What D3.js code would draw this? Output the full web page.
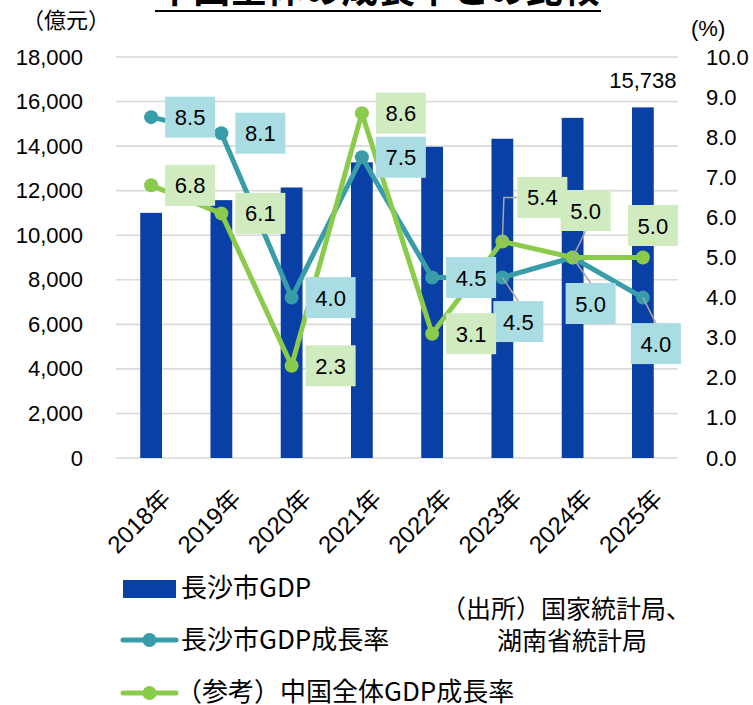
<!DOCTYPE html>
<html><head><meta charset="utf-8">
<script src="https://cdn.jsdelivr.net/npm/d3@7"></script>
<style>
html,body{margin:0;padding:0;background:#fff;}
svg{display:block;}
</style></head>
<body>
<script>
// ---- data ----
const years = ["2018年","2019年","2020年","2021年","2022年","2023年","2024年","2025年"];
const gdp = [11003, 11574, 12143, 13271, 13966, 14331, 15269, 15738];
const changshaRate = [8.5, 8.1, 4.0, 7.5, 4.5, 4.5, 5.0, 4.0];
const chinaRate = [6.8, 6.1, 2.3, 8.6, 3.1, 5.4, 5.0, 5.0];
const leftTicks = [0, 2000, 4000, 6000, 8000, 10000, 12000, 14000, 16000, 18000];
const rightTicks = [0, 1, 2, 3, 4, 5, 6, 7, 8, 9, 10];
const title = "中国全体の成長率との比較";
const legendNames = ["長沙市GDP", "長沙市GDP成長率", "（参考）中国全体GDP成長率"];
const sourceLines = ["（出所）国家統計局、", "湖南省統計局"];

// label placement (offset of label box centre from its point, in px)
const changshaLabelPos = [[39,0],[39,0],[39,0],[39,0],[39,0],[16,44],[18,46],[13,46]];
const chinaLabelPos    = [[39,0],[39,0],[39,0],[39,0],[39,0],[40,-44],[13,-47],[10,-32]];
const changshaLeader = ["","","","","","line","line","line"];
const chinaLeader    = ["","","","","","elbow","line",""];

const W = 753, H = 705;
const C = {bar:"#0A3FA6", teal:"#389DA8", green:"#8ACB4C", tealBox:"#AADCE3", greenBox:"#D0EBC0", grid:"#D9D9D9", leader:"#A6A6A6"};
const numFont = "'Liberation Sans', Arial, sans-serif";
const cjkFont = "'Noto Sans CJK JP', 'Noto Sans', sans-serif";

const svg = d3.select("body").append("svg").attr("width", W).attr("height", H);

const x = d3.scaleBand().domain(years).range([116, 678]).paddingInner(0.69).paddingOuter(0.345);
const xc = d => x(d) + x.bandwidth()/2;
const yL = d3.scaleLinear().domain([0, 18000]).range([458, 57]);
const yR = d3.scaleLinear().domain([0, 10]).range([458, 57]);

// title
svg.append("text").attr("x", 378).attr("y", 3).attr("text-anchor","middle")
  .style("font-family", cjkFont).style("font-weight","bold").style("font-size","37px")
  .attr("fill","#000").text(title);
svg.append("line").attr("x1",155).attr("x2",601).attr("y1",11).attr("y2",11)
  .attr("stroke","#000").attr("stroke-width",2.2);

// axis titles
svg.append("text").attr("x", 22).attr("y", 28).style("font-family", cjkFont).style("font-size","22px").text("（億元）");
svg.append("text").attr("x", 691).attr("y", 36).style("font-family", numFont).style("font-size","22px").text("(%)");

// gridlines
svg.append("g").selectAll("line").data(leftTicks).join("line")
  .attr("x1",116).attr("x2",678).attr("y1",d=>yL(d)).attr("y2",d=>yL(d))
  .attr("stroke",C.grid).attr("stroke-width",1.6);

// left axis
const fmt = d3.format(",");
const gl = svg.append("g").attr("transform","translate(100,0)")
  .call(d3.axisLeft(yL).tickValues(leftTicks).tickFormat(fmt).tickSize(0).tickPadding(17));
gl.select(".domain").remove();
gl.selectAll("text").style("font-family", numFont).style("font-size","22px").attr("fill","#000");

// right axis
const gr = svg.append("g").attr("transform","translate(690,0)")
  .call(d3.axisRight(yR).tickValues(rightTicks).tickFormat(d3.format(".1f")).tickSize(0).tickPadding(16));
gr.select(".domain").remove();
gr.selectAll("text").style("font-family", numFont).style("font-size","22px").attr("fill","#000");

// x axis labels
const gx = svg.append("g").attr("transform","translate(0,458)")
  .call(d3.axisBottom(x).tickSize(0).tickPadding(0));
gx.select(".domain").remove();
gx.selectAll(".tick text")
  .attr("text-anchor","end").attr("y",0).attr("dy",0)
  .attr("transform","translate(21,42) rotate(-45)")
  .style("font-family", numFont + ", " + cjkFont).style("font-size","24px").attr("fill","#000");

// bars
svg.append("g").selectAll("rect").data(gdp).join("rect")
  .attr("x",(d,i)=>x(years[i])).attr("width",x.bandwidth())
  .attr("y",d=>yL(d)).attr("height",d=>yL(0)-yL(d)).attr("fill",C.bar);

// last bar value label
svg.append("text").attr("x", xc(years[7])).attr("y", yL(gdp[7]) - 19)
  .attr("text-anchor","middle").style("font-family", numFont).style("font-size","22px")
  .text(fmt(gdp[7]));

// lines
const line = d3.line().x((d,i)=>xc(years[i])).y(d=>yR(d));
function drawSeries(vals, color){
  svg.append("path").datum(vals).attr("d", line).attr("fill","none")
    .attr("stroke", color).attr("stroke-width",5).attr("stroke-linejoin","round");
  svg.append("g").selectAll("circle").data(vals).join("circle")
    .attr("cx",(d,i)=>xc(years[i])).attr("cy",d=>yR(d)).attr("r",7).attr("fill",color);
}
drawSeries(changshaRate, C.teal);
drawSeries(chinaRate, C.green);

// data labels
const bw = 50, bh = 41;
function drawLabels(vals, pos, leaders, boxColor){
  const g = svg.append("g");
  vals.forEach((v,i)=>{
    const px = xc(years[i]), py = yR(v);
    const cx = px + pos[i][0], cy = py + pos[i][1];
    if (leaders[i] === "line") {
      const ey = cy > py ? cy - bh/2 : cy + bh/2;
      g.append("line").attr("x1",px).attr("y1",py).attr("x2",cx).attr("y2",ey)
        .attr("stroke",C.leader).attr("stroke-width",1.5);
    } else if (leaders[i] === "elbow") {
      g.append("path").attr("d",`M${px},${py}L${px+1.5},${cy}L${cx-bw/2},${cy}`)
        .attr("fill","none").attr("stroke",C.leader).attr("stroke-width",1.5);
    }
  });
  vals.forEach((v,i)=>{
    const px = xc(years[i]), py = yR(v);
    const cx = px + pos[i][0], cy = py + pos[i][1];
    g.append("rect").attr("x",cx-bw/2).attr("y",cy-bh/2).attr("width",bw).attr("height",bh).attr("fill",boxColor);
    g.append("text").attr("x",cx).attr("y",cy+8).attr("text-anchor","middle")
      .style("font-family", numFont).style("font-size","22px").attr("fill","#000")
      .text(d3.format(".1f")(v));
  });
}
drawLabels(changshaRate, changshaLabelPos, changshaLeader, C.tealBox);
drawLabels(chinaRate, chinaLabelPos, chinaLeader, C.greenBox);

// legend
const lg = svg.append("g");
lg.append("rect").attr("x",123).attr("y",580).attr("width",53).attr("height",18).attr("fill",C.bar);
[[C.teal,640],[C.green,693]].forEach(([c,y])=>{
  lg.append("line").attr("x1",123).attr("x2",176).attr("y1",y).attr("y2",y).attr("stroke",c).attr("stroke-width",5).attr("stroke-linecap","round");
  lg.append("circle").attr("cx",149.5).attr("cy",y).attr("r",7).attr("fill",c);
});
[[legendNames[0],597,181],[legendNames[1],649,181],[legendNames[2],701,176]].forEach(([t,y,xx])=>{
  lg.append("text").attr("x",xx).attr("y",y).style("font-family",cjkFont).style("font-size","26px").attr("fill","#000").text(t);
});

// source
svg.append("text").attr("x",441).attr("y",618).style("font-family",cjkFont).style("font-size","25px").text(sourceLines[0]);
svg.append("text").attr("x",497).attr("y",650).style("font-family",cjkFont).style("font-size","25px").text(sourceLines[1]);
</script>
</body></html>
